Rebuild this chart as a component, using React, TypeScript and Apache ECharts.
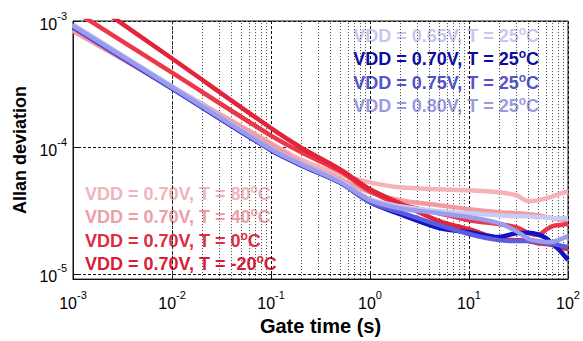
import React, { useEffect, useRef } from 'react';
import * as echarts from 'echarts';

// Gate time (s)
const gateTime = [0.001, 0.01, 0.1, 0.2, 0.5, 1, 2, 5, 10, 20, 30, 40, 50, 60, 70, 80, 100];

// Allan deviation, VDD sweep at T = 25 °C
const vdd065 = [9.4e-4, 3.05e-4, 9.8e-5, 7.45e-5, 5.4e-5, 3.9e-5, 3.43e-5, 3.13e-5, 3.02e-5, 2.91e-5, 2.86e-5, 2.86e-5, 2.81e-5, 2.81e-5, 2.76e-5, 2.76e-5, 2.76e-5];
const vdd070 = [8.9e-4, 2.92e-4, 9.5e-5, 7.25e-5, 5.25e-5, 3.69e-5, 2.97e-5, 2.3e-5, 2.14e-5, 1.96e-5, 2.1e-5, 2.12e-5, 2.05e-5, 1.92e-5, 1.72e-5, 1.57e-5, 1.29e-5];
const vdd075 = [9.0e-4, 2.95e-4, 9.6e-5, 7.3e-5, 5.28e-5, 3.69e-5, 3.08e-5, 2.43e-5, 2.07e-5, 1.85e-5, 1.82e-5, 1.82e-5, 1.79e-5, 1.75e-5, 1.72e-5, 1.69e-5, 1.63e-5];
const vdd080 = [9.2e-4, 3.0e-4, 9.7e-5, 7.4e-5, 5.32e-5, 3.83e-5, 3.31e-5, 3.02e-5, 2.81e-5, 2.52e-5, 2.18e-5, 1.89e-5, 1.82e-5, 1.79e-5, 1.79e-5, 1.85e-5, 1.99e-5];

// Allan deviation, temperature sweep at VDD = 0.70 V
const temp80 = [8.49e-4, 3.03e-4, 1.083e-4, 8.04e-5, 6.13e-5, 5.3e-5, 4.84e-5, 4.67e-5, 4.59e-5, 4.42e-5, 4.19e-5, 3.76e-5, 3.83e-5, 3.97e-5, 4.11e-5, 4.26e-5, 4.5e-5];
const temp40 = [8.34e-4, 2.97e-4, 1.056e-4, 7.62e-5, 5.6e-5, 4.42e-5, 3.83e-5, 3.49e-5, 3.25e-5, 3.08e-5, 3.02e-5, 2.97e-5, 2.91e-5, 2.81e-5, 2.76e-5, 2.71e-5, 2.61e-5];
const temp0 = [1.22e-3, 3.9e-4, 1.24e-4, 9.2e-5, 6.47e-5, 4.5e-5, 3.56e-5, 3.02e-5, 2.66e-5, 2.48e-5, 2.34e-5, 2.1e-5, 2.03e-5, 2.24e-5, 2.39e-5, 2.43e-5, 2.48e-5];
const tempM20 = [1.78e-3, 5.05e-4, 1.42e-4, 1.0e-4, 6.71e-5, 4.67e-5, 3.62e-5, 2.61e-5, 2.26e-5, 1.89e-5, 1.85e-5, 1.82e-5, 1.75e-5, 1.72e-5, 1.69e-5, 1.63e-5, 1.57e-5];

const blueLegend = ['VDD = 0.65V, T = 25', 'VDD = 0.70V, T = 25', 'VDD = 0.75V, T = 25', 'VDD = 0.80V, T = 25'];
const redLegend = ['VDD = 0.70V, T = 80', 'VDD = 0.70V, T = 40', 'VDD = 0.70V, T = 0', 'VDD = 0.70V, T = -20'];

const xDecades = [-3, -2, -1, 0, 1];
const yDecades = [-5, -4];
const minorSteps = [2, 3, 4, 5, 6, 7, 8, 9];

const FONT = '"Liberation Sans", Arial, Helvetica, sans-serif';

const C = {
  v065: '#c9cbf2',
  v070: '#1212c4',
  v075: '#5c5ce0',
  v080: '#9c9cec',
  t80: '#f5b3b8',
  t40: '#f29aa2',
  t0: '#ea3848',
  tm20: '#e2233a',
};
const T = {
  v065: '#c5c8ee',
  v070: '#0c0ca2',
  v075: '#5252cc',
  v080: '#9a9ae2',
  t80: '#f1b4ba',
  t40: '#ee9ea6',
  t0: '#e02a40',
  tm20: '#da1a36',
};

function expLabel(v: number) {
  const e = Math.log10(v);
  const r = Math.round(e);
  if (Math.abs(e - r) > 1e-6) return '';
  return `{b|10}{e|${r}}`;
}

const tickRich = {
  b: { fontSize: 16, fontFamily: FONT, color: '#000', lineHeight: 22, verticalAlign: 'bottom' },
  e: { fontSize: 11, fontFamily: FONT, color: '#000', lineHeight: 11, verticalAlign: 'top' },
};

function legendText(text: string, x: number, y: number, color: string, align: 'left' | 'right') {
  return {
    type: 'text',
    x,
    y,
    silent: true,
    style: {
      text: `{m|${text}}{s|o}{m|C}`,
      align,
      verticalAlign: 'middle',
      rich: {
        m: { fontSize: 18, fontWeight: 'bold', fontFamily: FONT, fill: color, lineHeight: 20, verticalAlign: 'bottom' },
        s: { fontSize: 12, fontWeight: 'bold', fontFamily: FONT, fill: color, lineHeight: 12, verticalAlign: 'top' },
      },
    },
  };
}

export default function App() {
  const ref = useRef<HTMLDivElement>(null);

  useEffect(() => {
    const chart = echarts.init(ref.current!, null, { renderer: 'svg' });

    const minorX: number[] = [];
    xDecades.forEach((d) => minorSteps.forEach((m) => minorX.push(m * Math.pow(10, d))));
    const minorY: number[] = [];
    yDecades.forEach((d) => minorSteps.forEach((m) => minorY.push(m * Math.pow(10, d))));

    const mk = (name: string, data: number[], color: string, extra: any = {}) => ({
      name,
      type: 'line',
      data: gateTime.map((t, i) => [t, data[i]]),
      showSymbol: false,
      symbol: 'none',
      smooth: 0.3,
      clip: true,
      lineStyle: { color, width: 4.5 },
      itemStyle: { color },
      emphasis: { disabled: true },
      ...extra,
    });

    const option: any = {
      animation: false,
      backgroundColor: '#fff',
      grid: {
        left: 73,
        right: 12,
        top: 21,
        bottom: 61,
        show: true,
        borderColor: '#111',
        borderWidth: 1,
        backgroundColor: '#fff',
      },
      xAxis: {
        type: 'log',
        logBase: 10,
        min: 1e-3,
        max: 1e2,
        name: 'Gate time (s)',
        nameLocation: 'middle',
        nameGap: 33,
        nameTextStyle: { fontSize: 20, fontWeight: 'bold', fontFamily: FONT, color: '#000', verticalAlign: 'top' },
        axisLine: { show: true, lineStyle: { color: '#111', width: 1 } },
        axisTick: { show: true, inside: true, length: 5, lineStyle: { color: '#111' } },
        axisLabel: { formatter: expLabel, rich: tickRich, margin: 10, showMinLabel: true, showMaxLabel: true },
        splitLine: { show: true, lineStyle: { color: '#111', type: [3, 2], width: 1 } },
      },
      yAxis: {
        type: 'log',
        logBase: 10,
        min: 9.1e-6,
        max: 1e-3,
        name: 'Allan deviation',
        nameLocation: 'middle',
        nameGap: 40,
        nameRotate: 90,
        nameTextStyle: { fontSize: 18, fontWeight: 'bold', fontFamily: FONT, color: '#000' },
        axisLine: { show: true, lineStyle: { color: '#111', width: 1 } },
        axisTick: { show: true, inside: true, length: 5, lineStyle: { color: '#111' } },
        axisLabel: { formatter: expLabel, rich: tickRich, margin: 6 },
        splitLine: { show: true, lineStyle: { color: '#111', type: [3, 2], width: 1 } },
      },
      graphic: [
        ...blueLegend.map((t, i) =>
          legendText(t, 539, 35 + i * 23.3, [T.v065, T.v070, T.v075, T.v080][i], 'right')
        ),
        ...redLegend.map((t, i) =>
          legendText(t, 85, 193 + i * 23.3, [T.t80, T.t40, T.t0, T.tm20][i], 'left')
        ),
      ],
      series: [
        mk('VDD = 0.70V, T = 80°C', temp80, C.t80, {
          markLine: {
            silent: true,
            z: 1,
            symbol: ['none', 'none'],
            label: { show: false },
            emphasis: { disabled: true },
            animation: false,
            lineStyle: { color: '#444', type: [1, 2], width: 1 },
            data: [...minorX.map((v) => ({ xAxis: v })), ...minorY.map((v) => ({ yAxis: v }))],
          },
        }),
        mk('VDD = 0.70V, T = 40°C', temp40, C.t40),
        mk('VDD = 0.70V, T = 0°C', temp0, C.t0),
        mk('VDD = 0.70V, T = -20°C', tempM20, C.tm20),
        mk('VDD = 0.70V, T = 25°C', vdd070, C.v070),
        mk('VDD = 0.75V, T = 25°C', vdd075, C.v075),
        mk('VDD = 0.65V, T = 25°C', vdd065, C.v065),
        mk('VDD = 0.80V, T = 25°C', vdd080, C.v080),
      ],
    };

    chart.setOption(option);
    return () => chart.dispose();
  }, []);

  return (
    <div
      ref={ref}
      style={{ position: 'fixed', left: 0, top: 0, width: 583, height: 341, background: '#fff' }}
    />
  );
}
